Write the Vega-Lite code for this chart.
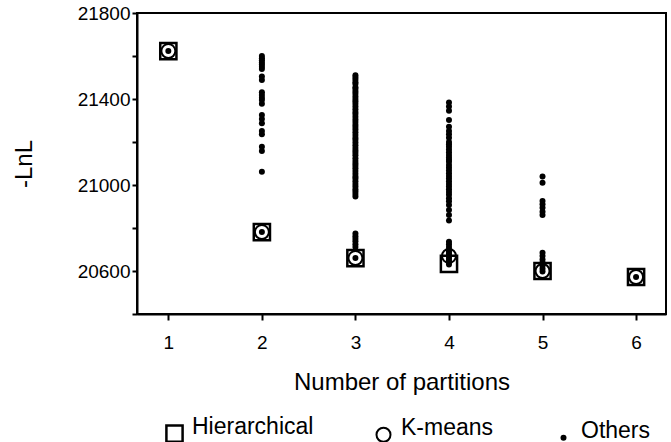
{
  "$schema": "https://vega.github.io/schema/vega-lite/v6.json",
  "width": 529,
  "height": 301,
  "autosize": {"type": "none"},
  "padding": {"left": 137, "top": 13, "right": 5, "bottom": 128},
  "background": "white",
  "config": {
    "view": {"stroke": "black", "strokeWidth": 2},
    "font": "Liberation Sans",
    "axis": {
      "domainColor": "black", "domainWidth": 2, "tickColor": "black", "tickWidth": 2,
      "grid": false, "labelColor": "black", "titleColor": "black",
      "labelFont": "Liberation Sans", "titleFont": "Liberation Sans",
      "labelFontSize": 19, "titleFontSize": 24, "titleFontWeight": "normal"
    },
    "legend": {
      "labelFont": "Liberation Sans", "labelFontSize": 23, "labelColor": "black"
    }
  },
  "data": {
    "values": [
      {"k": 1, "lnl": 21623, "method": "Hierarchical"},
      {"k": 2, "lnl": 20781, "method": "Hierarchical"},
      {"k": 3, "lnl": 20660, "method": "Hierarchical"},
      {"k": 4, "lnl": 20633, "method": "Hierarchical"},
      {"k": 5, "lnl": 20600, "method": "Hierarchical"},
      {"k": 6, "lnl": 20572, "method": "Hierarchical"},
      {"k": 1, "lnl": 21623, "method": "K-means"},
      {"k": 2, "lnl": 20781, "method": "K-means"},
      {"k": 3, "lnl": 20660, "method": "K-means"},
      {"k": 4, "lnl": 20670, "method": "K-means"},
      {"k": 5, "lnl": 20600, "method": "K-means"},
      {"k": 6, "lnl": 20572, "method": "K-means"},
      {"k": 1, "lnl": 21623, "method": "Others"},
      {"k": 2, "lnl": 20781, "method": "Others"},
      {"k": 3, "lnl": 20660, "method": "Others"},
      {"k": 6, "lnl": 20572, "method": "Others"},
      {"k": 2, "lnl": 21600, "method": "Others"},
      {"k": 2, "lnl": 21590, "method": "Others"},
      {"k": 2, "lnl": 21580, "method": "Others"},
      {"k": 2, "lnl": 21570, "method": "Others"},
      {"k": 2, "lnl": 21560, "method": "Others"},
      {"k": 2, "lnl": 21550, "method": "Others"},
      {"k": 2, "lnl": 21540, "method": "Others"},
      {"k": 2, "lnl": 21505, "method": "Others"},
      {"k": 2, "lnl": 21488, "method": "Others"},
      {"k": 2, "lnl": 21431, "method": "Others"},
      {"k": 2, "lnl": 21419, "method": "Others"},
      {"k": 2, "lnl": 21406, "method": "Others"},
      {"k": 2, "lnl": 21395, "method": "Others"},
      {"k": 2, "lnl": 21378, "method": "Others"},
      {"k": 2, "lnl": 21326, "method": "Others"},
      {"k": 2, "lnl": 21307, "method": "Others"},
      {"k": 2, "lnl": 21287, "method": "Others"},
      {"k": 2, "lnl": 21251, "method": "Others"},
      {"k": 2, "lnl": 21236, "method": "Others"},
      {"k": 2, "lnl": 21178, "method": "Others"},
      {"k": 2, "lnl": 21158, "method": "Others"},
      {"k": 2, "lnl": 21062, "method": "Others"},
      {"k": 3, "lnl": 21510, "method": "Others"},
      {"k": 3, "lnl": 21500, "method": "Others"},
      {"k": 3, "lnl": 21490, "method": "Others"},
      {"k": 3, "lnl": 21478, "method": "Others"},
      {"k": 3, "lnl": 21470, "method": "Others"},
      {"k": 3, "lnl": 21455, "method": "Others"},
      {"k": 3, "lnl": 21447, "method": "Others"},
      {"k": 3, "lnl": 21435, "method": "Others"},
      {"k": 3, "lnl": 21425, "method": "Others"},
      {"k": 3, "lnl": 21412, "method": "Others"},
      {"k": 3, "lnl": 21400, "method": "Others"},
      {"k": 3, "lnl": 21390, "method": "Others"},
      {"k": 3, "lnl": 21378, "method": "Others"},
      {"k": 3, "lnl": 21365, "method": "Others"},
      {"k": 3, "lnl": 21352, "method": "Others"},
      {"k": 3, "lnl": 21340, "method": "Others"},
      {"k": 3, "lnl": 21330, "method": "Others"},
      {"k": 3, "lnl": 21318, "method": "Others"},
      {"k": 3, "lnl": 21305, "method": "Others"},
      {"k": 3, "lnl": 21293, "method": "Others"},
      {"k": 3, "lnl": 21280, "method": "Others"},
      {"k": 3, "lnl": 21270, "method": "Others"},
      {"k": 3, "lnl": 21258, "method": "Others"},
      {"k": 3, "lnl": 21245, "method": "Others"},
      {"k": 3, "lnl": 21232, "method": "Others"},
      {"k": 3, "lnl": 21220, "method": "Others"},
      {"k": 3, "lnl": 21210, "method": "Others"},
      {"k": 3, "lnl": 21198, "method": "Others"},
      {"k": 3, "lnl": 21185, "method": "Others"},
      {"k": 3, "lnl": 21172, "method": "Others"},
      {"k": 3, "lnl": 21160, "method": "Others"},
      {"k": 3, "lnl": 21150, "method": "Others"},
      {"k": 3, "lnl": 21138, "method": "Others"},
      {"k": 3, "lnl": 21125, "method": "Others"},
      {"k": 3, "lnl": 21112, "method": "Others"},
      {"k": 3, "lnl": 21100, "method": "Others"},
      {"k": 3, "lnl": 21090, "method": "Others"},
      {"k": 3, "lnl": 21078, "method": "Others"},
      {"k": 3, "lnl": 21065, "method": "Others"},
      {"k": 3, "lnl": 21052, "method": "Others"},
      {"k": 3, "lnl": 21040, "method": "Others"},
      {"k": 3, "lnl": 21030, "method": "Others"},
      {"k": 3, "lnl": 21018, "method": "Others"},
      {"k": 3, "lnl": 21005, "method": "Others"},
      {"k": 3, "lnl": 20993, "method": "Others"},
      {"k": 3, "lnl": 20980, "method": "Others"},
      {"k": 3, "lnl": 20970, "method": "Others"},
      {"k": 3, "lnl": 20958, "method": "Others"},
      {"k": 3, "lnl": 20946, "method": "Others"},
      {"k": 3, "lnl": 20775, "method": "Others"},
      {"k": 3, "lnl": 20762, "method": "Others"},
      {"k": 3, "lnl": 20750, "method": "Others"},
      {"k": 3, "lnl": 20738, "method": "Others"},
      {"k": 3, "lnl": 20725, "method": "Others"},
      {"k": 3, "lnl": 20712, "method": "Others"},
      {"k": 4, "lnl": 21384, "method": "Others"},
      {"k": 4, "lnl": 21365, "method": "Others"},
      {"k": 4, "lnl": 21345, "method": "Others"},
      {"k": 4, "lnl": 21302, "method": "Others"},
      {"k": 4, "lnl": 21271, "method": "Others"},
      {"k": 4, "lnl": 21251, "method": "Others"},
      {"k": 4, "lnl": 21236, "method": "Others"},
      {"k": 4, "lnl": 21220, "method": "Others"},
      {"k": 4, "lnl": 21200, "method": "Others"},
      {"k": 4, "lnl": 21190, "method": "Others"},
      {"k": 4, "lnl": 21178, "method": "Others"},
      {"k": 4, "lnl": 21165, "method": "Others"},
      {"k": 4, "lnl": 21152, "method": "Others"},
      {"k": 4, "lnl": 21140, "method": "Others"},
      {"k": 4, "lnl": 21128, "method": "Others"},
      {"k": 4, "lnl": 21118, "method": "Others"},
      {"k": 4, "lnl": 21108, "method": "Others"},
      {"k": 4, "lnl": 21093, "method": "Others"},
      {"k": 4, "lnl": 21080, "method": "Others"},
      {"k": 4, "lnl": 21068, "method": "Others"},
      {"k": 4, "lnl": 21055, "method": "Others"},
      {"k": 4, "lnl": 21042, "method": "Others"},
      {"k": 4, "lnl": 21030, "method": "Others"},
      {"k": 4, "lnl": 21018, "method": "Others"},
      {"k": 4, "lnl": 21005, "method": "Others"},
      {"k": 4, "lnl": 20993, "method": "Others"},
      {"k": 4, "lnl": 20980, "method": "Others"},
      {"k": 4, "lnl": 20967, "method": "Others"},
      {"k": 4, "lnl": 20955, "method": "Others"},
      {"k": 4, "lnl": 20938, "method": "Others"},
      {"k": 4, "lnl": 20925, "method": "Others"},
      {"k": 4, "lnl": 20907, "method": "Others"},
      {"k": 4, "lnl": 20884, "method": "Others"},
      {"k": 4, "lnl": 20860, "method": "Others"},
      {"k": 4, "lnl": 20835, "method": "Others"},
      {"k": 4, "lnl": 20736, "method": "Others"},
      {"k": 4, "lnl": 20725, "method": "Others"},
      {"k": 4, "lnl": 20712, "method": "Others"},
      {"k": 4, "lnl": 20700, "method": "Others"},
      {"k": 4, "lnl": 20690, "method": "Others"},
      {"k": 4, "lnl": 20680, "method": "Others"},
      {"k": 4, "lnl": 20670, "method": "Others"},
      {"k": 4, "lnl": 20660, "method": "Others"},
      {"k": 4, "lnl": 20650, "method": "Others"},
      {"k": 4, "lnl": 20640, "method": "Others"},
      {"k": 4, "lnl": 20630, "method": "Others"},
      {"k": 5, "lnl": 21040, "method": "Others"},
      {"k": 5, "lnl": 21010, "method": "Others"},
      {"k": 5, "lnl": 20926, "method": "Others"},
      {"k": 5, "lnl": 20910, "method": "Others"},
      {"k": 5, "lnl": 20894, "method": "Others"},
      {"k": 5, "lnl": 20876, "method": "Others"},
      {"k": 5, "lnl": 20860, "method": "Others"},
      {"k": 5, "lnl": 20685, "method": "Others"},
      {"k": 5, "lnl": 20670, "method": "Others"},
      {"k": 5, "lnl": 20654, "method": "Others"},
      {"k": 5, "lnl": 20640, "method": "Others"},
      {"k": 5, "lnl": 20625, "method": "Others"},
      {"k": 5, "lnl": 20610, "method": "Others"},
      {"k": 5, "lnl": 20598, "method": "Others"}
    ]
  },
  "mark": {"type": "point", "filled": true, "opacity": 1, "stroke": "black"},
  "encoding": {
    "x": {
      "field": "k", "type": "quantitative",
      "scale": {"domain": [0.665, 6.32], "nice": false, "zero": false},
      "axis": {
        "values": [1, 2, 3, 4, 5, 6], "tickSize": 6, "labelPadding": 13,
        "title": "Number of partitions", "titlePadding": 18
      }
    },
    "y": {
      "field": "lnl", "type": "quantitative",
      "scale": {"domain": [20400, 21800], "nice": false, "zero": false},
      "axis": {
        "values": [20400, 20600, 20800, 21000, 21200, 21400, 21600, 21800],
        "labelExpr": "datum.value % 400 == 200 ? datum.value : ''",
        "format": "d", "tickSize": 5, "labelPadding": 2,
        "title": "-LnL", "titlePadding": 41
      }
    },
    "shape": {
      "field": "method", "type": "nominal",
      "scale": {"domain": ["Hierarchical", "K-means", "Others"], "range": ["square", "circle", "circle"]},
      "legend": {
        "title": null, "orient": "none", "direction": "horizontal",
        "legendX": 26, "legendY": 409, "padding": 0,
        "columnPadding": 58, "labelOffset": 6, "labelBaseline": "alphabetic",
        "encode": {"symbols": {
          "fill": {"condition": {"test": "datum.value === 'Others'", "value": "black"}, "value": "transparent"},
          "stroke": {"condition": {"test": "datum.value === 'Others'", "value": "transparent"}, "value": "black"},
          "strokeWidth": {"value": 2}
        }}
      }
    },
    "size": {
      "field": "method", "type": "nominal",
      "scale": {"type": "ordinal", "domain": ["Hierarchical", "K-means", "Others"], "range": [262, 196, 36]},
      "legend": {
        "title": null, "orient": "none", "direction": "horizontal",
        "legendX": 26, "legendY": 409, "padding": 0,
        "columnPadding": 58, "labelOffset": 6, "labelBaseline": "alphabetic",
        "encode": {"symbols": {
          "fill": {"condition": {"test": "datum.value === 'Others'", "value": "black"}, "value": "transparent"},
          "stroke": {"condition": {"test": "datum.value === 'Others'", "value": "transparent"}, "value": "black"},
          "strokeWidth": {"value": 2}
        }}
      }
    },
    "fill": {
      "field": "method", "type": "nominal",
      "scale": {"domain": ["Hierarchical", "K-means", "Others"], "range": ["transparent", "transparent", "black"]},
      "legend": {
        "title": null, "orient": "none", "direction": "horizontal",
        "legendX": 26, "legendY": 409, "padding": 0,
        "columnPadding": 58, "labelOffset": 6, "labelBaseline": "alphabetic",
        "encode": {"symbols": {
          "fill": {"condition": {"test": "datum.value === 'Others'", "value": "black"}, "value": "transparent"},
          "stroke": {"condition": {"test": "datum.value === 'Others'", "value": "transparent"}, "value": "black"},
          "strokeWidth": {"value": 2}
        }}
      }
    },
    "strokeWidth": {
      "field": "method", "type": "nominal",
      "scale": {"type": "ordinal", "domain": ["Hierarchical", "K-means", "Others"], "range": [2.5, 2, 0]},
      "legend": {
        "title": null, "orient": "none", "direction": "horizontal",
        "legendX": 26, "legendY": 409, "padding": 0,
        "columnPadding": 58, "labelOffset": 6, "labelBaseline": "alphabetic",
        "encode": {"symbols": {
          "fill": {"condition": {"test": "datum.value === 'Others'", "value": "black"}, "value": "transparent"},
          "stroke": {"condition": {"test": "datum.value === 'Others'", "value": "transparent"}, "value": "black"},
          "strokeWidth": {"value": 2}
        }}
      }
    }
  }
}
